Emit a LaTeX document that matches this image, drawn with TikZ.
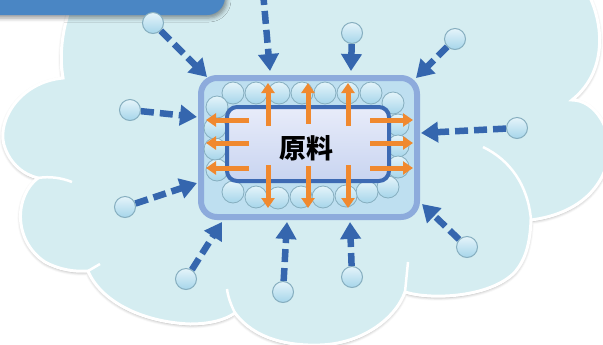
\documentclass[tikz,border=0pt]{standalone}
\usepackage{fontspec}
\newfontfamily\cjk{Noto Sans CJK SC}
\usetikzlibrary{arrows.meta,shadows.blur}

\definecolor{cloudfill}{HTML}{D5EDF1}
\definecolor{tabblue}{HTML}{4A86C4}
\definecolor{shellrim}{HTML}{8DABDC}
\definecolor{shellfill}{HTML}{BEDFF0}
\definecolor{corerim}{HTML}{3D6AB3}
\definecolor{coretop}{HTML}{E8ECFA}
\definecolor{corebot}{HTML}{C8D4F0}
\definecolor{feedblue}{HTML}{3566AE}
\definecolor{heat}{HTML}{F0892F}
\definecolor{beadrim}{HTML}{86AEBF}
\definecolor{beadtop}{HTML}{E4F4FA}
\definecolor{beadbot}{HTML}{A6D5EA}

\tikzset{
    feed/.style={feedblue, line width=6.5bp, dash pattern=on 13bp off 6bp, -{Triangle[length=17bp,width=20bp]}},
    spread/.style={heat, line width=5bp, -{Triangle[length=10bp,width=13bp]}},
    bead/.style={circle, minimum size=22bp, inner sep=0pt, draw=beadrim, line width=0.8bp, top color=beadtop, bottom color=beadbot},
    drop/.style={bead, minimum size=21bp, line width=1bp},
    shell/.style={draw=shellrim, line width=6bp, fill=shellfill, rounded corners=16bp, minimum width=216bp, minimum height=139bp},
    core/.style={draw=corerim, line width=4bp, top color=coretop, bottom color=corebot, rounded corners=10bp, minimum width=162bp, minimum height=74bp}
}

\begin{document}
\begin{tikzpicture}[x=1bp, y=-1bp]
    \useasboundingbox (0,0) rectangle (603,344);
    \clip (0,0) rectangle (603,344);
    % The cloud, lobe by lobe.
        \path[fill=cloudfill, draw=white, line width=3bp,
              blur shadow={shadow xshift=0bp, shadow yshift=-1.5bp, shadow blur radius=3bp, shadow opacity=35}]
            (80,-15) .. controls (64,15) and (58,50) .. (63,78)
            .. controls (20,82) and (-3,120) .. (4,145)
            .. controls (10,165) and (25,175) .. (38,178)
            .. controls (15,195) and (12,240) .. (45,262)
            .. controls (60,270) and (75,272) .. (88,271)
            .. controls (100,300) and (140,322) .. (190,324)
            .. controls (210,324) and (225,320) .. (235,313)
            .. controls (255,340) and (290,346) .. (320,345)
            .. controls (360,344) and (395,320) .. (405,292)
            .. controls (430,300) and (490,298) .. (515,272)
            .. controls (525,260) and (530,245) .. (531,220)
            .. controls (570,215) and (600,195) .. (608,160)
            .. controls (614,130) and (595,100) .. (572,100)
            .. controls (610,70) and (605,15) .. (580,-20) -- cycle;
    % Seams where the lobes overlap.
        \draw[white, line width=2.5bp] (63,78) -- (61,66);
        \draw[white, line width=2.5bp] (38,178) .. controls (50,176) and (62,178) .. (72,182);
        \draw[white, line width=2.5bp] (88,271) -- (100,264);
        \draw[white, line width=2.5bp] (235,313) .. controls (231,305) and (228,297) .. (227,289);
        \draw[white, line width=2.5bp] (405,292) .. controls (406,282) and (407,272) .. (408,262);
        \draw[white, line width=2.5bp] (531,220) .. controls (528,185) and (510,160) .. (483,147);
    % The tab in the corner.
        \fill[tabblue, rounded corners=18bp,
              blur shadow={shadow xshift=2bp, shadow yshift=-3bp, shadow blur radius=4bp, shadow opacity=40}]
            (-30,-30) rectangle (225,15);
    % Below are the blue feeds coming in from outside.
        \node[drop] (d1) at (153,23) {};
        \coordinate (d2) at (263,-8);
        \node[drop] (d3) at (352,33) {};
        \node[drop] (d4) at (455,39) {};
        \node[drop] (d5) at (130,110) {};
        \node[drop] (d6) at (517,128) {};
        \node[drop] (d7) at (125,207) {};
        \node[drop] (d8) at (186,279) {};
        \node[drop] (d9) at (283,292) {};
        \node[drop] (d10) at (352,277) {};
        \node[drop] (d11) at (467,247) {};
        \coordinate (t1) at (207,77);
        \coordinate (t2) at (270,71);
        \coordinate (t3) at (351,71);
        \coordinate (t4) at (416,78);
        \coordinate (t5) at (197,117);
        \coordinate (t6) at (421,133);
        \coordinate (t7) at (197,183);
        \coordinate (t8) at (222,222);
        \coordinate (t9) at (287,222);
        \coordinate (t10) at (350,222);
        \coordinate (t11) at (422,204);
        \draw[feed] (d1) -- (t1);
        \draw[feed] (d2) -- (t2);
        \draw[feed] (d3) -- (t3);
        \draw[feed] (d4) -- (t4);
        \draw[feed] (d5) -- (t5);
        \draw[feed] (d6) -- (t6);
        \draw[feed] (d7) -- (t7);
        \draw[feed] (d8) -- (t8);
        \draw[feed] (d9) -- (t9);
        \draw[feed] (d10) -- (t10);
        \draw[feed] (d11) -- (t11);
    % The shell and its ring of beads.
        \node[shell] (shell) at (309,147.5) {};
        \node[bead] (b1) at (233,93) {};
        \node[bead] (b2) at (256,93) {};
        \node[bead] (b3) at (279,93) {};
        \node[bead] (b4) at (302,93) {};
        \node[bead] (b5) at (325,93) {};
        \node[bead] (b6) at (348,93) {};
        \node[bead] (b7) at (371,93) {};
        \node[bead] (b8) at (393,103) {};
        \node[bead] (b9) at (398,125) {};
        \node[bead] (b10) at (398,146) {};
        \node[bead] (b11) at (398,167) {};
        \node[bead] (b12) at (388,187) {};
        \node[bead] (b13) at (367,192) {};
        \node[bead] (b14) at (346,196) {};
        \node[bead] (b15) at (323,197) {};
        \node[bead] (b16) at (301,197) {};
        \node[bead] (b17) at (278,198) {};
        \node[bead] (b18) at (256,197) {};
        \node[bead] (b19) at (233,192) {};
        \node[bead] (b20) at (217,170) {};
        \node[bead] (b21) at (215,149) {};
        \node[bead] (b22) at (215,128) {};
        \node[bead] (b23) at (217,107) {};
    % The core itself.
        \node[core] (core) at (308,144) {};
    % Orange arrows pushing outwards.
        \coordinate (u1) at (268,126); \coordinate (u1e) at (268,83);
        \coordinate (u2) at (308,124); \coordinate (u2e) at (308,83);
        \coordinate (u3) at (348,126); \coordinate (u3e) at (348,83);
        \coordinate (w1) at (268,165); \coordinate (w1e) at (268,208);
        \coordinate (w2) at (308,166); \coordinate (w2e) at (308,208);
        \coordinate (w3) at (348,165); \coordinate (w3e) at (348,208);
        \coordinate (l1) at (249,120); \coordinate (l1e) at (206,120);
        \coordinate (l2) at (249,143); \coordinate (l2e) at (206,143);
        \coordinate (l3) at (249,168); \coordinate (l3e) at (206,168);
        \coordinate (r1) at (370,120); \coordinate (r1e) at (413,120);
        \coordinate (r2) at (370,143); \coordinate (r2e) at (413,143);
        \coordinate (r3) at (370,168); \coordinate (r3e) at (413,168);
        \draw[spread] (u1) -- (u1e);
        \draw[spread] (u2) -- (u2e);
        \draw[spread] (u3) -- (u3e);
        \draw[spread] (w1) -- (w1e);
        \draw[spread] (w2) -- (w2e);
        \draw[spread] (w3) -- (w3e);
        \draw[spread] (l1) -- (l1e);
        \draw[spread] (l2) -- (l2e);
        \draw[spread] (l3) -- (l3e);
        \draw[spread] (r1) -- (r1e);
        \draw[spread] (r2) -- (r2e);
        \draw[spread] (r3) -- (r3e);
    % Label in the middle.
        \node[font=\cjk\bfseries\fontsize{27}{30}\selectfont] (label) at (306,148) {原料};
\end{tikzpicture}
\end{document}
